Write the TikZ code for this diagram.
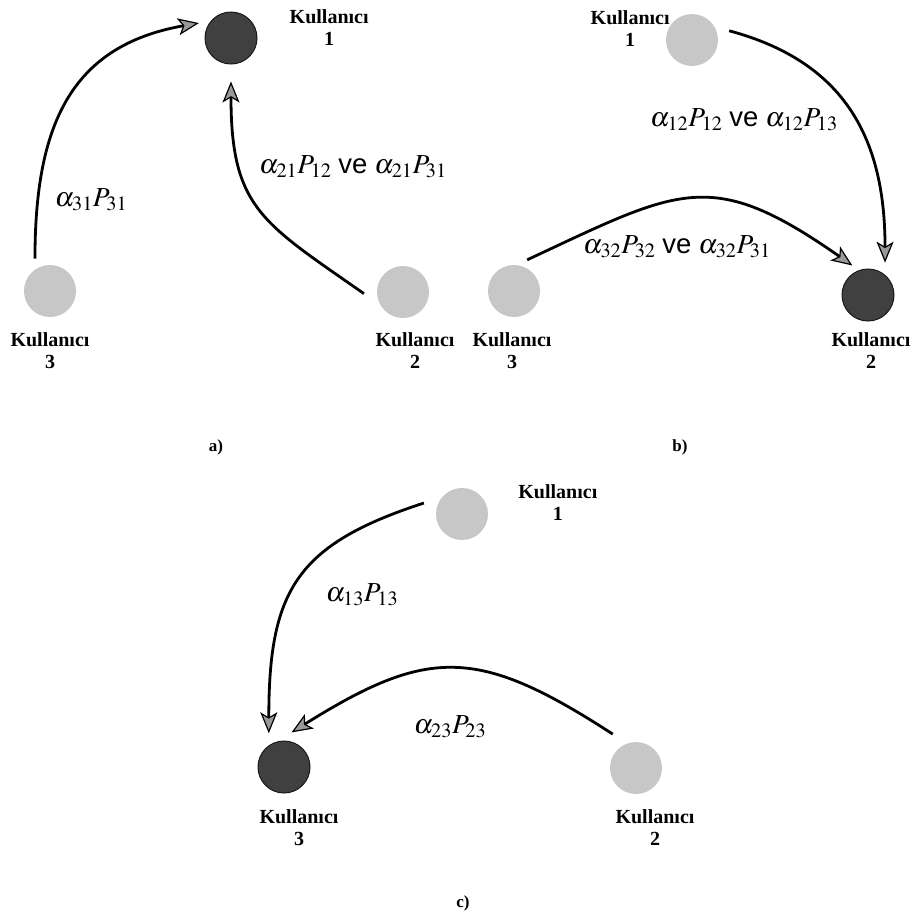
\documentclass[tikz,border=0pt]{standalone}
\usepackage{mathptmx}
\usepackage{fontspec}
\setmainfont{Liberation Serif}
\setsansfont{Liberation Sans}
\usepackage{tikz}
\usetikzlibrary{
  positioning,
  arrows.meta
}

\begin{document}
\begin{tikzpicture}[
  x=1pt, y=1pt,
  user/.style={
    circle,
    inner sep=0pt,
    minimum size=52pt
  },
  idle/.style={
    user,
    fill=black!22
  },
  target/.style={
    user,
    fill=black!75,
    draw=black!90,
    line width=1pt
  },
  who/.style={
    font=\fontsize{20}{22}\selectfont\bfseries,
    align=center,
    inner sep=0pt
  },
  gain/.style={
    font=\fontsize{27.5}{32}\selectfont,
    inner sep=0pt
  },
  panel/.style={
    font=\fontsize{17}{20}\selectfont\bfseries,
    inner sep=0pt
  },
  link/.style={
    -{Stealth[length=21pt,width=17pt,inset=5pt,fill=black!40,line width=1.2pt]},
    line width=2.8pt
  }
]
\useasboundingbox (0,0) rectangle (917,-916);

\node[target] (u1a) at (231,-38) {};
\node[idle] (u2a) at (403,-292) {};
\node[idle] (u3a) at (50,-291) {};
\node[who, right=32pt of u1a, yshift=10pt] (n1a) {Kullanıcı\\1};
\node[who, below=14pt of u2a, xshift=12pt] (n2a) {Kullanıcı\\2};
\node[who, below=15pt of u3a] (n3a) {Kullanıcı\\3};

\node[idle] (u1b) at (692,-40) {};
\node[target] (u2b) at (868,-295) {};
\node[idle] (u3b) at (514,-291) {};
\node[who, left=-4pt of u1b, yshift=11pt] (n1b) {Kullanıcı\\1};
\node[who, below=11pt of u2b, xshift=3pt] (n2b) {Kullanıcı\\2};
\node[who, below=15pt of u3b, xshift=-2pt] (n3b) {Kullanıcı\\3};

\node[idle] (u1c) at (462,-514) {};
\node[idle] (u2c) at (636,-768) {};
\node[target] (u3c) at (284,-767) {};
\node[who, right=30pt of u1c, yshift=11pt] (n1c) {Kullanıcı\\1};
\node[who, below=15pt of u2c, xshift=19pt] (n2c) {Kullanıcı\\2};
\node[who, below=16pt of u3c, xshift=15pt] (n3c) {Kullanıcı\\3};

\draw[link, shorten <=11pt, shorten >=12pt] (u3a.125) to[out=90, in=190, looseness=1.2] (u1a.140);
\draw[link, shorten <=20pt, shorten >=17pt] (u2a.210) to[out=145, in=-90, looseness=1.3] (u1a.south);
\draw[link, shorten <=15pt, shorten >=12pt] (u1b.30) to[out=-15, in=90, looseness=1.15] (u2b.50);
\draw[link, shorten <=12pt, shorten >=8pt] (u3b.85) to[out=25, in=145, looseness=1.35] (u2b.110);
\draw[link, shorten <=19pt, shorten >=12pt] (u1c.140) to[out=198, in=90, looseness=1.3] (u3c.125);
\draw[link, shorten <=17pt, shorten >=17pt] (u2c.110) to[out=147, in=32, looseness=1.3] (u3c.105);

\node[gain] (g31) at (91,-200) {$\alpha_{31}P_{31}$};
\node[gain] (g21) at (353,-167) {$\alpha_{21}P_{12}$ \textsf{ve} $\alpha_{21}P_{31}$};
\node[gain] (g12) at (744,-120) {$\alpha_{12}P_{12}$ \textsf{ve} $\alpha_{12}P_{13}$};
\node[gain] (g32) at (677,-247) {$\alpha_{32}P_{32}$ \textsf{ve} $\alpha_{32}P_{31}$};
\node[gain] (g13) at (362,-595) {$\alpha_{13}P_{13}$};
\node[gain] (g23) at (450,-727) {$\alpha_{23}P_{23}$};

\node[panel] (pa) at (216,-447) {a)};
\node[panel] (pb) at (680,-447) {b)};
\node[panel] (pc) at (463,-903) {c)};

\end{tikzpicture}
\end{document}
